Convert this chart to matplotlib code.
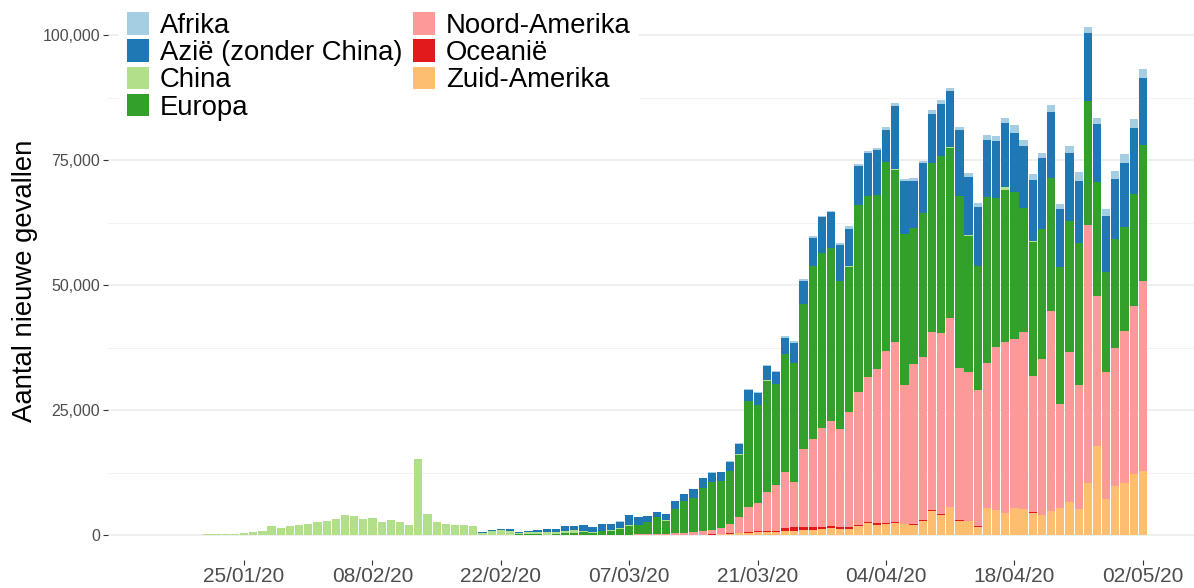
import matplotlib
matplotlib.use("Agg")
import matplotlib.pyplot as plt
import matplotlib.dates as mdates
from matplotlib.ticker import FuncFormatter, MultipleLocator, NullLocator
import numpy as np
import pandas as pd

# daily new cases, 16/01/20 .. 02/05/20 (108 days)
dates = pd.date_range("2020-01-16", "2020-05-02", freq="D")

afrika = [
    0, 0, 0, 0, 0, 0, 0, 0, 0, 0,
    0, 0, 0, 0, 0, 0, 0, 0, 0, 0,
    0, 0, 0, 0, 0, 0, 0, 0, 0, 0,
    0, 0, 0, 0, 0, 0, 0, 0, 0, 0,
    0, 0, 0, 0, 0, 0, 0, 0, 0, 0,
    5, 5, 5, 5, 5, 10, 10, 20, 30, 50,
    70, 70, 100, 130, 200, 200, 200, 200, 330, 330,
    330, 330, 270, 330, 330, 470, 400, 470, 470, 530,
    670, 530, 530, 470, 670, 670, 670, 470, 800, 930,
    930, 930, 1000, 1600, 1200, 1200, 1000, 1330, 1000, 1470,
    1670, 1200, 1330, 1330, 1670, 1800, 1870, 1730,
]
azie = [
    0, 0, 0, 0, 0, 0, 0, 0, 0, 0,
    0, 0, 5, 5, 5, 5, 10, 10, 10, 10,
    60, 10, 30, 10, 5, 10, 60, 10, 10, 40,
    20, 20, 20, 60, 60, 200, 200, 200, 270, 200,
    330, 400, 600, 700, 1100, 900, 1250, 1100, 1250, 1200,
    1300, 1930, 1530, 1130, 930, 1330, 1670, 1330, 1730, 1870,
    1930, 1800, 1870, 2070, 2200, 2400, 2870, 2470, 3130, 4000,
    4670, 5530, 7200, 7130, 7130, 7530, 7800, 8530, 9000, 6330,
    12670, 10470, 9330, 10000, 9870, 10400, 11200, 13200, 11730, 11670,
    11400, 11400, 12800, 11870, 12330, 12330, 14200, 13200, 11670, 13530,
    12470, 13600, 11600, 11200, 11870, 12870, 13200, 13470,
]
china = [
    0, 0, 0, 100, 0, 130, 130, 130, 270, 450,
    690, 770, 1720, 1460, 1720, 2000, 2120, 2660, 2790, 3260,
    3940, 3720, 3240, 3460, 2660, 2990, 2540, 2060, 15130, 4160,
    2580, 2180, 1980, 1940, 1810, 400, 870, 930, 800, 200,
    270, 300, 430, 330, 420, 550, 200, 130, 130, 150,
    150, 100, 45, 45, 20, 25, 30, 20, 20, 20,
    20, 20, 20, 40, 40, 40, 50, 40, 80, 50,
    70, 60, 50, 40, 30, 50, 40, 40, 30, 20,
    40, 40, 60, 60, 60, 40, 100, 100, 110, 90,
    50, 50, 500, 30, 20, 20, 10, 30, 10, 10,
    10, 10, 10, 10, 20, 10, 10, 10,
]
europa = [
    0, 0, 0, 0, 0, 0, 0, 0, 0, 0,
    0, 0, 0, 0, 0, 0, 0, 0, 0, 0,
    0, 0, 0, 0, 0, 0, 0, 0, 0, 0,
    0, 0, 0, 0, 0, 0, 0, 20, 60, 130,
    270, 230, 100, 250, 350, 350, 600, 450, 750, 800,
    1200, 1800, 1870, 2470, 3400, 2670, 4800, 6400, 6870, 8670,
    9600, 9400, 10530, 12400, 21070, 19470, 22330, 20200, 23530, 23670,
    28930, 34530, 35000, 34470, 29730, 29000, 37330, 36130, 34730, 37870,
    34470, 30200, 27130, 28670, 33670, 35330, 34000, 34270, 27330, 24870,
    33270, 29800, 30330, 29330, 24670, 26800, 25930, 26470, 27330, 26200,
    28330, 24870, 22730, 20000, 21870, 20670, 22270, 27200,
]
noord_amerika = [
    0, 0, 0, 0, 0, 0, 0, 0, 0, 0,
    0, 0, 0, 0, 0, 0, 0, 0, 0, 0,
    0, 0, 0, 0, 0, 0, 0, 0, 0, 0,
    0, 0, 0, 0, 0, 0, 0, 0, 0, 0,
    0, 0, 0, 0, 0, 10, 20, 20, 20, 20,
    50, 80, 100, 100, 150, 200, 330, 330, 530, 670,
    800, 1130, 1870, 3200, 5000, 5600, 7670, 9070, 11330, 9130,
    15670, 17730, 19670, 21070, 19470, 23000, 26670, 29000, 30930, 34330,
    36070, 27800, 32130, 32670, 35670, 36270, 37800, 30530, 29670, 27200,
    29000, 32530, 34330, 33870, 35470, 27330, 31200, 40000, 20870, 30130,
    24870, 51530, 29930, 25470, 27470, 30470, 33670, 38000,
]
oceanie = [
    0, 0, 0, 0, 0, 0, 0, 0, 0, 0,
    0, 0, 0, 0, 0, 0, 0, 0, 0, 0,
    0, 0, 0, 0, 0, 0, 0, 0, 0, 0,
    0, 0, 0, 0, 0, 0, 0, 0, 0, 0,
    0, 0, 0, 0, 0, 0, 0, 0, 0, 0,
    0, 0, 0, 0, 0, 0, 0, 0, 20, 30,
    50, 50, 70, 100, 200, 200, 300, 300, 470, 670,
    530, 530, 470, 470, 470, 470, 200, 330, 330, 270,
    200, 130, 130, 130, 100, 200, 100, 100, 60, 50,
    40, 40, 40, 50, 30, 100, 20, 20, 20, 20,
    20, 20, 20, 10, 20, 20, 20, 20,
]
zuid_amerika = [
    0, 0, 0, 0, 0, 0, 0, 0, 0, 0,
    0, 0, 0, 0, 0, 0, 0, 0, 0, 0,
    0, 0, 0, 0, 0, 0, 0, 0, 0, 0,
    0, 0, 0, 0, 0, 0, 0, 0, 0, 0,
    0, 0, 0, 0, 0, 0, 0, 0, 0, 0,
    0, 0, 10, 10, 10, 20, 20, 30, 50, 70,
    100, 150, 270, 370, 470, 670, 570, 570, 870, 870,
    1000, 1000, 1200, 1330, 1200, 1200, 1800, 2330, 2000, 2200,
    2330, 2130, 2000, 2870, 4870, 4000, 5530, 2870, 2800, 1670,
    5330, 5000, 4330, 5330, 5200, 4470, 4000, 4870, 5330, 6530,
    5200, 10470, 17870, 7200, 9870, 10400, 12200, 12800,
]

regions = ["Afrika", "Azië (zonder China)", "China", "Europa",
           "Noord-Amerika", "Oceanië", "Zuid-Amerika"]
colors = ["#A6CEE3", "#1F78B4", "#B2DF8A", "#33A02C",
          "#FB9A99", "#E31A1C", "#FDBF6F"]
series = [afrika, azie, china, europa, noord_amerika, oceanie, zuid_amerika]
tick_dates = pd.date_range("2020-01-25", "2020-05-02", freq="14D")

plt.rcParams["font.family"] = ["Liberation Sans", "DejaVu Sans"]

W, H = 1194, 588
fig = plt.figure(figsize=(W / 100, H / 100), dpi=100)
ax = fig.add_axes([108 / W, (H - 560.4) / H, (W - 108) / W, 559.15 / H])

# stack from the bottom (Zuid-Amerika) to the top (Afrika)
bottom = np.zeros(len(dates))
bars = {}
for name, vals, col in reversed(list(zip(regions, series, colors))):
    vals = np.asarray(vals, dtype=float)
    bars[name] = ax.bar(dates, vals, width=0.9, bottom=bottom, color=col,
                        linewidth=0, label=name)
    bottom += vals

d0 = mdates.date2num(dates[0])
ax.set_xlim(d0 - 5.84, d0 + 112.58)
ax.set_ylim(-5080, 106750)

ax.set_xticks(tick_dates)
ax.xaxis.set_major_formatter(mdates.DateFormatter("%d/%m/%y"))
ax.xaxis.set_minor_locator(NullLocator())
ax.set_yticks([0, 25000, 50000, 75000, 100000])
ax.yaxis.set_minor_locator(MultipleLocator(12500))
ax.yaxis.set_major_formatter(FuncFormatter(lambda v, p: f"{v:,.0f}"))

ax.grid(False)
ax.yaxis.grid(True, which="major", color="#EBEBEB", linewidth=1.1)
ax.yaxis.grid(True, which="minor", color="#F2F2F2", linewidth=0.7)
ax.set_axisbelow(True)
for s in ax.spines.values():
    s.set_visible(False)

ax.tick_params(axis="y", which="major", length=3.6, width=0.8, color="#333333",
               pad=2.2, labelsize=11.5, labelcolor="#4D4D4D")
ax.tick_params(axis="y", which="minor", length=0)
ax.tick_params(axis="x", which="major", length=3.3, width=0.8, color="#333333",
               pad=1.7, labelsize=15, labelcolor="#4D4D4D")

ax.set_ylabel("Aantal nieuwe gevallen", fontsize=19.8, color="black")
ax.yaxis.set_label_coords(-0.0645, 0.5)

leg = ax.legend([bars[n] for n in regions], regions, ncol=2, loc="upper left",
                bbox_to_anchor=(118.75 / W, 1 - 4 / H), bbox_transform=fig.transFigure,
                fontsize=19.8, handlelength=0.8, handleheight=0.87,
                handletextpad=0.39, columnspacing=0.4, labelspacing=0.02,
                borderpad=0.3, borderaxespad=0, frameon=True, fancybox=False,
                framealpha=1, facecolor="white", edgecolor="none")

fig.savefig("out.png", dpi=100)
